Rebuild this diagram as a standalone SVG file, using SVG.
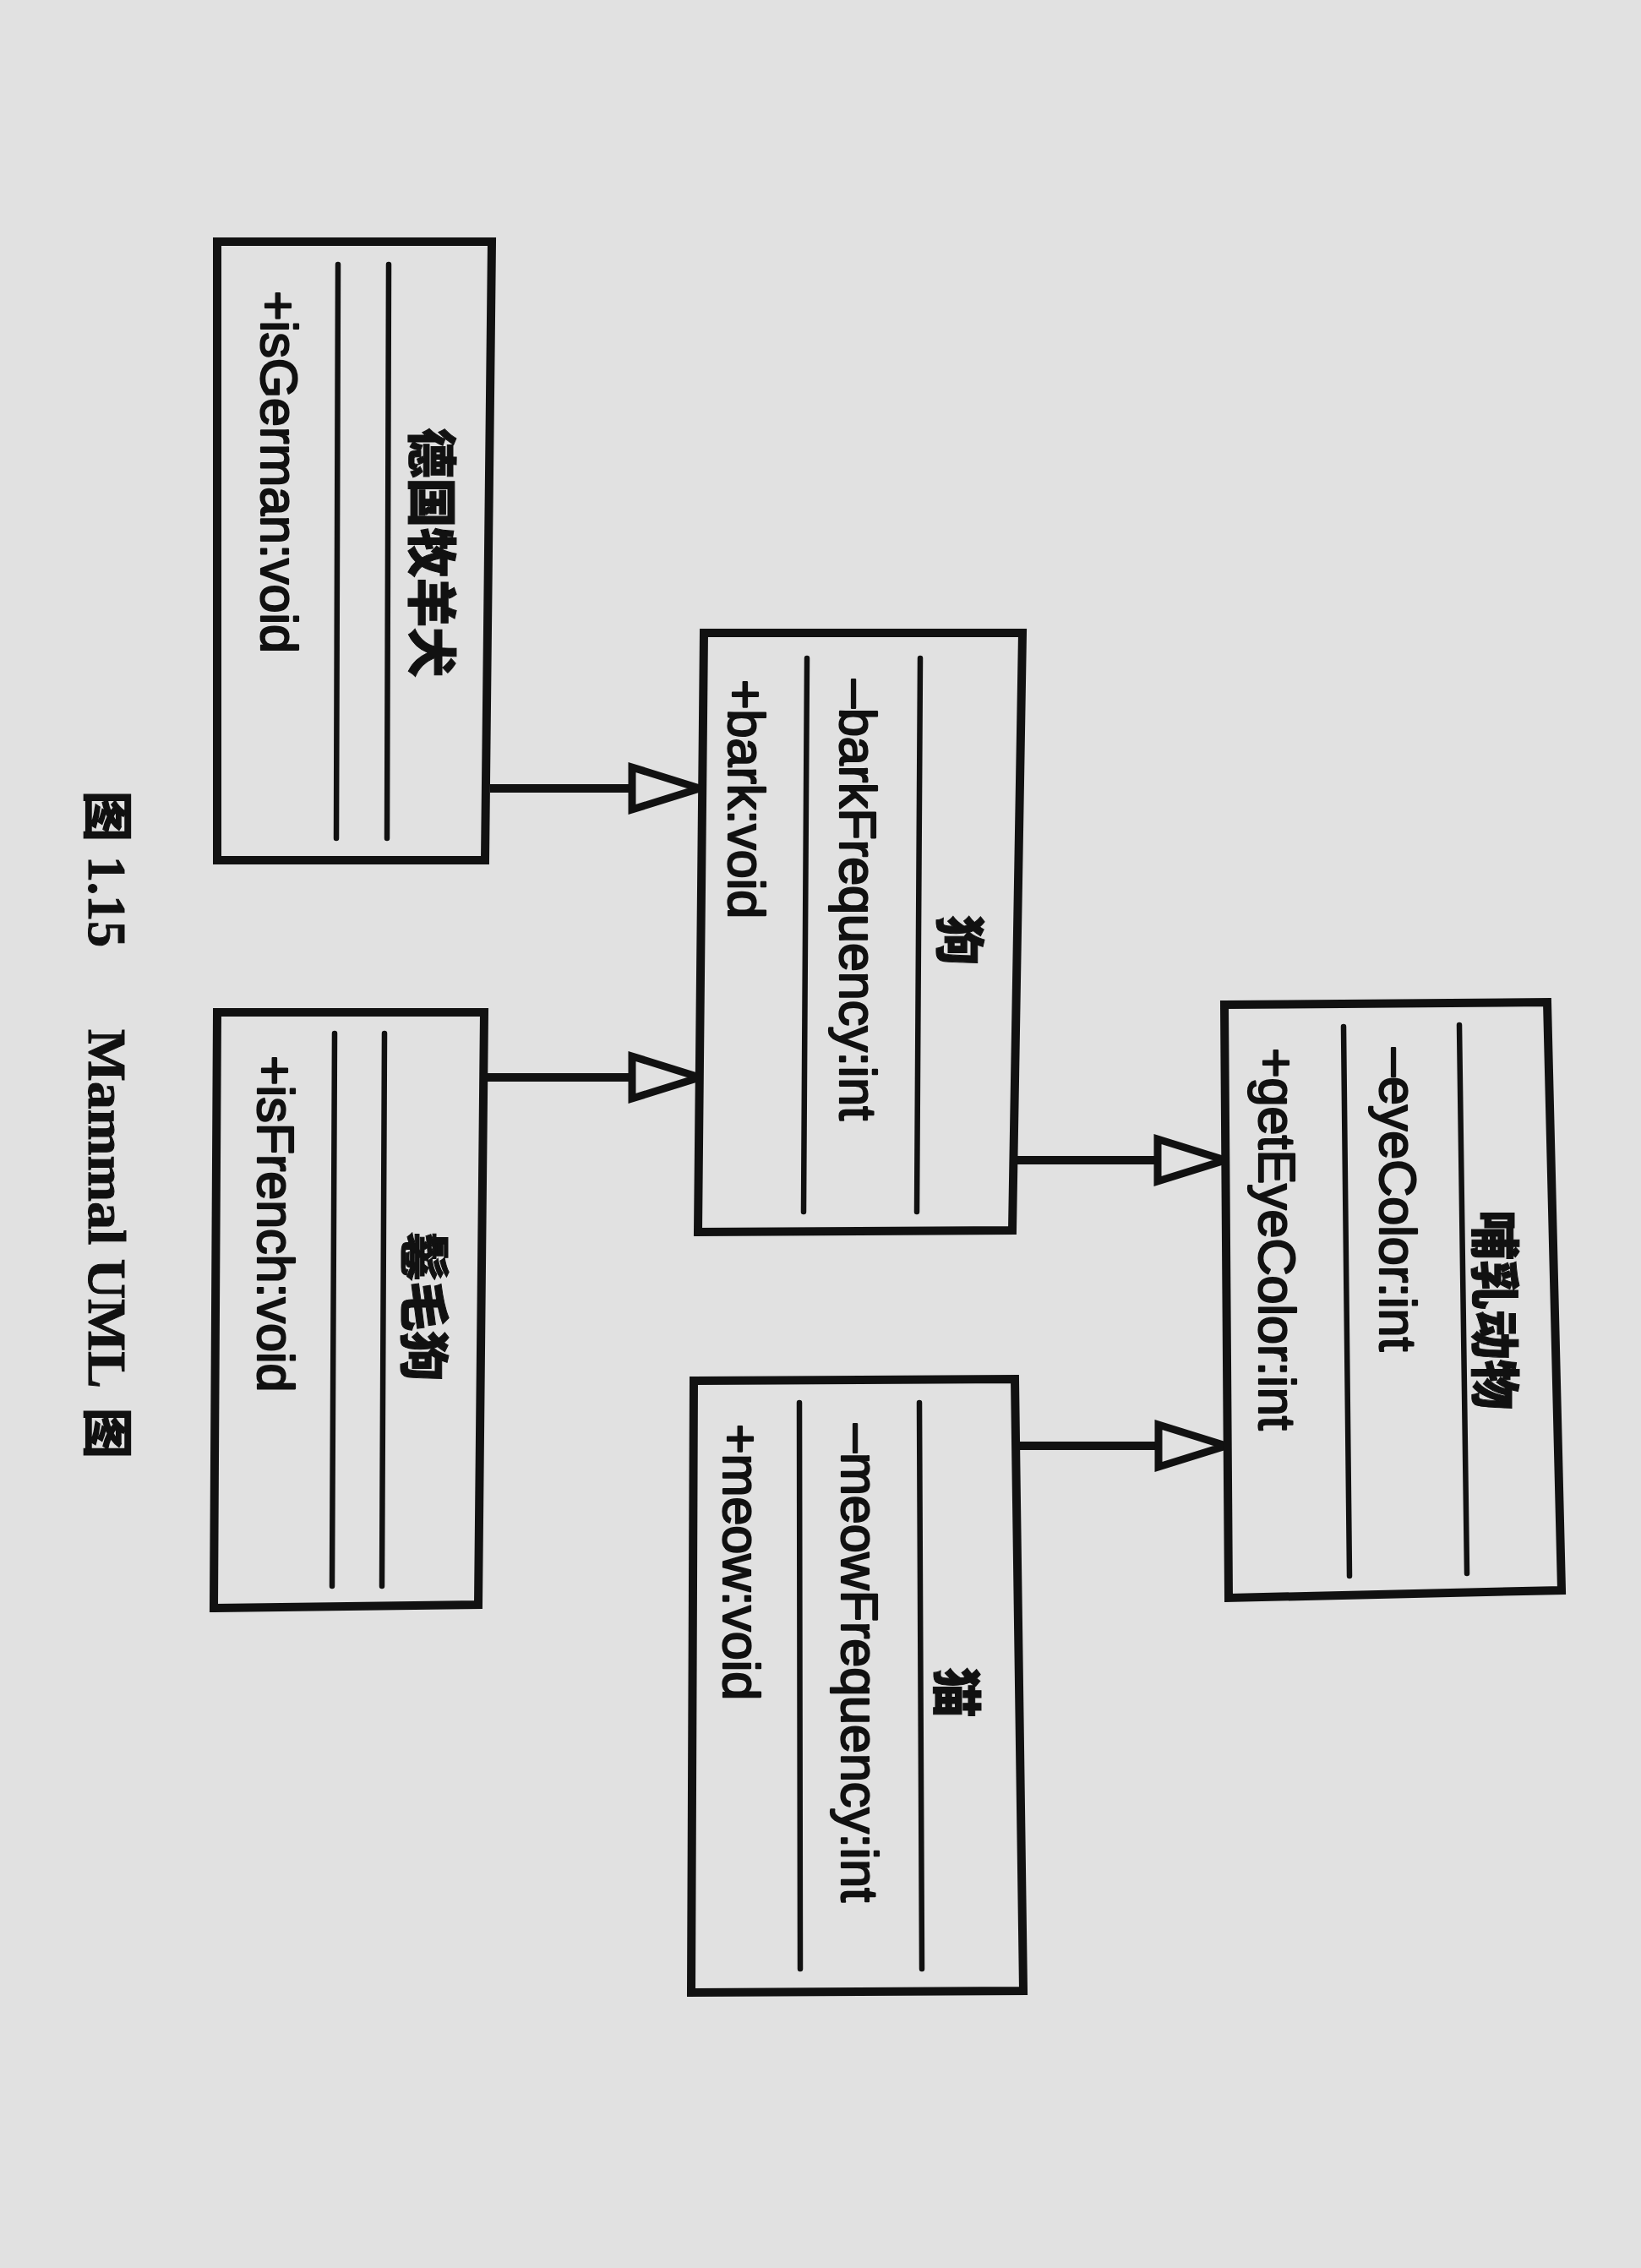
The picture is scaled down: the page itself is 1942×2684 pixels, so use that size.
<svg xmlns="http://www.w3.org/2000/svg" width="1942" height="2684" viewBox="0 0 1942 2684">
  <style>
    .bg { fill: #e1e1e1; }
    .box { fill: #e1e1e1; stroke: #111; stroke-width: 10; stroke-linejoin: miter; }
    .sep { stroke: #111; stroke-width: 6.5; stroke-linecap: round; fill: none; }
    .title { font-family: "Noto Sans CJK SC", sans-serif; font-weight: 900; font-size: 59px; fill: #111; stroke: #111; stroke-width: 1; text-anchor: middle; dominant-baseline: central; }
    .member { font-family: "Liberation Sans", Arial, "Noto Sans CJK SC", sans-serif; font-size: 61px; fill: #111; stroke: #111; stroke-width: 2.2; stroke-linejoin: round; }
    .edge { stroke: #111; stroke-width: 10; fill: none; }
    .head { fill: #e1e1e1; stroke: #111; stroke-width: 9; stroke-linejoin: miter; }
    .cap { font-family: "Liberation Serif", "Times New Roman", serif; font-weight: 700; font-size: 64px; fill: #111; stroke: #111; stroke-width: 1; }
    .capcjk { font-family: "Noto Sans CJK SC", sans-serif; font-weight: 700; font-size: 60px; fill: #111; stroke: #111; stroke-width: 1.5; }
  </style>
  <defs>
    <!-- hollow generalization triangle, tip at the origin, pointing +x -->
    <path id="gen" d="M0,0 L-80,-25 L-80,25 Z"/>
  </defs>

  <rect class="bg" x="0" y="0" width="1942" height="2684"/>

  <!-- connectors: subclass -> superclass (generalization) -->
  <g id="connectors">
    <line class="edge" x1="580" y1="933" x2="752" y2="933"/>
    <use href="#gen" class="head" transform="translate(828,933)"/>

    <line class="edge" x1="571" y1="1275" x2="752" y2="1275"/>
    <use href="#gen" class="head" transform="translate(828,1275)"/>

    <line class="edge" x1="1200" y1="1373" x2="1372" y2="1373"/>
    <use href="#gen" class="head" transform="translate(1450,1373)"/>

    <line class="edge" x1="1205" y1="1711" x2="1372" y2="1711"/>
    <use href="#gen" class="head" transform="translate(1451,1711)"/>
  </g>

  <!-- 德国牧羊犬 -->
  <g id="node-german-shepherd">
    <polygon class="box" points="257,286 582,286 574,1018 257,1018"/>
    <line class="sep" x1="400" y1="313" x2="398" y2="992"/>
    <line class="sep" x1="460" y1="313" x2="458" y2="992"/>
    <text class="title" transform="translate(514,654) rotate(90)">德国牧羊犬</text>
    <text class="member" transform="translate(309,344) rotate(90)">+isGerman:void</text>
  </g>

  <!-- 鬈毛狗 -->
  <g id="node-poodle">
    <polygon class="box" points="257,1198 573,1198 566,1899 253,1903"/>
    <line class="sep" x1="396" y1="1223" x2="393" y2="1877"/>
    <line class="sep" x1="455" y1="1223" x2="452" y2="1877"/>
    <text class="title" transform="translate(505,1546) rotate(90)">鬈毛狗</text>
    <text class="member" transform="translate(305,1249) rotate(90)">+isFrench:void</text>
  </g>

  <!-- 狗 -->
  <g id="node-dog">
    <polygon class="box" points="833,749 1210,749 1198,1456 826,1458"/>
    <line class="sep" x1="955" y1="779" x2="951" y2="1434"/>
    <line class="sep" x1="1089" y1="779" x2="1085" y2="1434"/>
    <text class="title" transform="translate(1139,1113) rotate(90)">狗</text>
    <text class="member" transform="translate(994,804) rotate(90)">–barkFrequency:int</text>
    <text class="member" transform="translate(862,804) rotate(90)">+bark:void</text>
  </g>

  <!-- 猫 -->
  <g id="node-cat">
    <polygon class="box" points="821,1634 1201,1632 1211,2356 818,2358"/>
    <line class="sep" x1="946" y1="1660" x2="947" y2="2330"/>
    <line class="sep" x1="1088" y1="1660" x2="1091" y2="2330"/>
    <text class="title" transform="translate(1135,2003) rotate(90)">猫</text>
    <text class="member" transform="translate(996,1685) rotate(90)">–meowFrequency:int</text>
    <text class="member" transform="translate(856,1685) rotate(90)">+meow:void</text>
  </g>

  <!-- 哺乳动物 -->
  <g id="node-mammal">
    <polygon class="box" points="1449,1189 1831,1186 1848,1882 1454,1891"/>
    <line class="sep" x1="1590" y1="1215" x2="1597" y2="1865"/>
    <line class="sep" x1="1727" y1="1213" x2="1736" y2="1862"/>
    <text class="title" transform="translate(1772,1550) rotate(90)">哺乳动物</text>
    <text class="member" transform="translate(1633,1240) rotate(90)">–eyeColor:int</text>
    <text class="member" transform="translate(1490,1240) rotate(90)">+getEyeColor:int</text>
  </g>

  <!-- figure caption -->
  <g id="caption">
    <text transform="translate(105,0) rotate(90)">
      <tspan class="capcjk" x="936">图</tspan>
      <tspan class="cap" x="1013" textLength="108" lengthAdjust="spacingAndGlyphs">1.15</tspan>
      <tspan class="cap" x="1218" textLength="425" lengthAdjust="spacingAndGlyphs">Mammal UML</tspan>
      <tspan class="capcjk" x="1666">图</tspan>
    </text>
  </g>
</svg>
